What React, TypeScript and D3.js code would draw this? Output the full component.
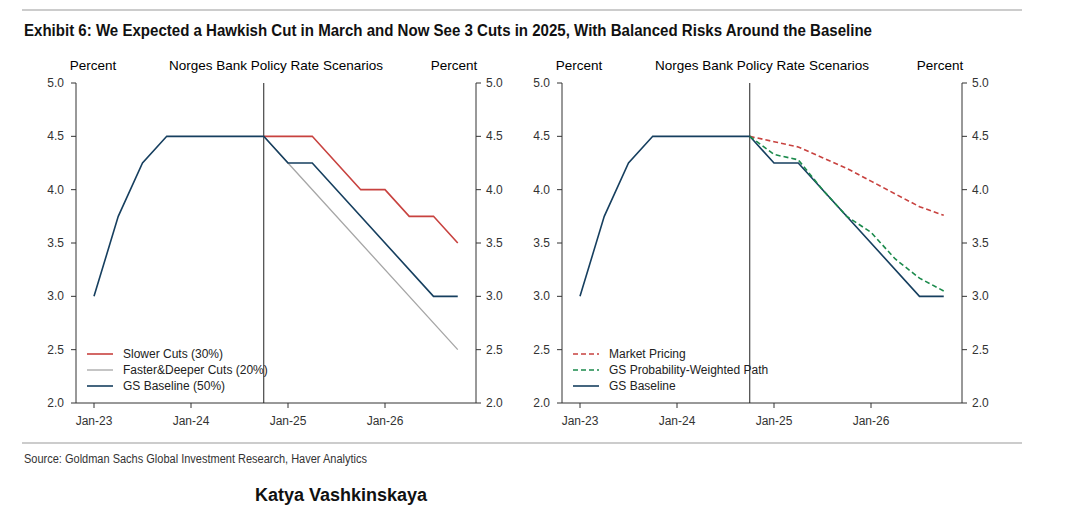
import React from 'react';
import * as d3 from 'd3';

// months since Jan-23
const baseMonths = [0, 3, 6, 9, 21, 24, 27, 42, 45];
const baseVals = [3.0, 3.75, 4.25, 4.5, 4.5, 4.25, 4.25, 3.0, 3.0];

const slowerMonths = [21, 27, 33, 36, 39, 42, 45];
const slowerVals = [4.5, 4.5, 4.0, 4.0, 3.75, 3.75, 3.5];

const fasterMonths = [21, 24, 45];
const fasterVals = [4.5, 4.25, 2.5];

const qMonths = [21, 24, 27, 30, 33, 36, 39, 42, 45];
const marketVals = [4.5, 4.45, 4.4, 4.3, 4.2, 4.08, 3.96, 3.84, 3.76];
const weightedVals = [4.5, 4.33, 4.28, 4.0, 3.75, 3.6, 3.35, 3.17, 3.05];

const yTicks = [2.0, 2.5, 3.0, 3.5, 4.0, 4.5, 5.0];
const xTickMonths = [0, 12, 24, 36];
const xTickLabels = ['Jan-23', 'Jan-24', 'Jan-25', 'Jan-26'];
const forecastStart = 21;

const RED = '#c8423f';
const GREY = '#a6a6a6';
const NAVY = '#163f5f';
const GREEN = '#1b8a4c';
const FONT = 'Arial, "Liberation Sans", sans-serif';

interface Series { months: number[]; vals: number[]; color: string; dash?: string; label: string; width?: number }

const Panel: React.FC<{ x0: number; series: Series[]; legend: Series[] }> = ({ x0, series, legend }) => {
  const left = x0, right = x0 + 400, top = 83, bottom = 403;
  const x = d3.scaleLinear().domain([0, 12]).range([left + 18, left + 115]);
  const y = d3.scaleLinear().domain([2, 5]).range([bottom, top]);
  const line = (m: number[], v: number[]) =>
    d3.line<number>().x((_, i) => x(m[i])).y(d => y(d))(v) || '';
  return (
    <g fontFamily={FONT}>
      <text x={left + 17} y={70} fontSize={13.5} textAnchor="middle">Percent</text>
      <text x={left + 200} y={70} fontSize={13.5} textAnchor="middle">Norges Bank Policy Rate Scenarios</text>
      <text x={right - 22} y={70} fontSize={13.5} textAnchor="middle">Percent</text>
      <line x1={left} x2={left} y1={top} y2={bottom} stroke="#333" />
      <line x1={right} x2={right} y1={top} y2={bottom} stroke="#333" />
      <line x1={left} x2={right} y1={bottom} y2={bottom} stroke="#333" />
      {yTicks.map(t => (
        <g key={t}>
          <line x1={left - 5} x2={left} y1={y(t)} y2={y(t)} stroke="#333" />
          <text x={left - 12} y={y(t) + 4} fontSize={12} textAnchor="end" fill="#333">{t.toFixed(1)}</text>
          <line x1={right} x2={right + 5} y1={y(t)} y2={y(t)} stroke="#333" />
          <text x={right + 10} y={y(t) + 4} fontSize={12} fill="#333">{t.toFixed(1)}</text>
        </g>
      ))}
      {xTickMonths.map((m, i) => (
        <g key={m}>
          <line x1={x(m)} x2={x(m)} y1={bottom} y2={bottom + 5} stroke="#333" />
          <text x={x(m)} y={bottom + 22} fontSize={12} textAnchor="middle" fill="#333">{xTickLabels[i]}</text>
        </g>
      ))}
      <line x1={x(forecastStart)} x2={x(forecastStart)} y1={top} y2={bottom} stroke="#222" strokeWidth={1} />
      {series.map((s, i) => (
        <path key={i} d={line(s.months, s.vals)} fill="none" stroke={s.color}
          strokeWidth={s.width ?? 1.6} strokeDasharray={s.dash} />
      ))}
      {legend.map((s, i) => (
        <g key={i}>
          <line x1={left + 11} x2={left + 37} y1={354 + i * 16} y2={354 + i * 16}
            stroke={s.color} strokeWidth={s.width ?? 1.6} strokeDasharray={s.dash} />
          <text x={left + 47} y={358 + i * 16} fontSize={12} fill="#222">{s.label}</text>
        </g>
      ))}
    </g>
  );
};

export default function App() {
  const slower: Series = { months: slowerMonths, vals: slowerVals, color: RED, label: 'Slower Cuts (30%)' };
  const faster: Series = { months: fasterMonths, vals: fasterVals, color: GREY, label: 'Faster&Deeper Cuts (20%)', width: 1.3 };
  const base1: Series = { months: baseMonths, vals: baseVals, color: NAVY, label: 'GS Baseline (50%)' };
  const market: Series = { months: qMonths, vals: marketVals, color: RED, dash: '5,3', label: 'Market Pricing' };
  const weighted: Series = { months: qMonths, vals: weightedVals, color: GREEN, dash: '5,3', label: 'GS Probability-Weighted Path' };
  const base2: Series = { months: baseMonths, vals: baseVals, color: NAVY, label: 'GS Baseline' };
  return (
    <svg width={1051} height={515} style={{ display: 'block', margin: '-8px 0 0 -8px' }}>
      <rect width={1067} height={523} fill="#fff" />
      <line x1={22} x2={1022} y1={10} y2={10} stroke="#999" />
      <text x={24} y={36} fontFamily={FONT} fontWeight="bold" fontSize={16} fill="#111"
        textLength={848} lengthAdjust="spacingAndGlyphs">
        Exhibit 6: We Expected a Hawkish Cut in March and Now See 3 Cuts in 2025, With Balanced Risks Around the Baseline
      </text>
      <Panel x0={76} series={[faster, slower, base1]} legend={[slower, faster, base1]} />
      <Panel x0={562} series={[market, base2, weighted]} legend={[market, weighted, base2]} />
      <line x1={22} x2={1022} y1={443} y2={443} stroke="#999" />
      <text x={24} y={463} fontFamily={FONT} fontSize={12} fill="#333"
        textLength={343} lengthAdjust="spacingAndGlyphs">
        Source: Goldman Sachs Global Investment Research, Haver Analytics
      </text>
      <text x={255} y={501} fontFamily={FONT} fontWeight="bold" fontSize={18} fill="#111">Katya Vashkinskaya</text>
    </svg>
  );
}
